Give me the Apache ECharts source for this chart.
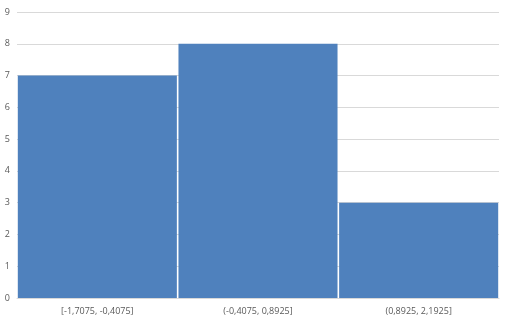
<!DOCTYPE html>
<html><head><meta charset="utf-8">
<script src="https://cdn.jsdelivr.net/npm/echarts@6/dist/echarts.min.js"></script>
<style>html,body{margin:0;padding:0;background:#fff}#c{width:506px;height:321px}</style>
</head><body><div id="c"></div>
<script>
const categories = ['[-1,7075, -0,4075]', '(-0,4075, 0,8925]', '(0,8925, 2,1925]'];
const counts = [7, 8, 3];
const yTicks = [0, 1, 2, 3, 4, 5, 6, 7, 8, 9];

const chart = echarts.init(document.getElementById('c'), null, {renderer: 'canvas'});
chart.setOption({
  animation: false,
  backgroundColor: '#ffffff',
  grid: {left: 17, right: 7, top: 12, bottom: 23},
  xAxis: {
    type: 'category',
    data: categories,
    axisTick: {show: false},
    axisLine: {lineStyle: {color: '#d9d9d9'}},
    axisLabel: {color: '#595959', fontSize: 9, fontFamily: 'Open Sans', margin: 9}
  },
  yAxis: {
    type: 'value',
    min: yTicks[0], max: yTicks[yTicks.length - 1], interval: 1,
    axisLine: {show: false}, axisTick: {show: false},
    splitLine: {lineStyle: {color: '#d9d9d9'}},
    axisLabel: {color: '#595959', fontSize: 9, fontFamily: 'Open Sans', margin: 7}
  },
  series: [{
    type: 'bar',
    data: counts,
    barCategoryGap: '1%',
    itemStyle: {color: '#4f81bd'}
  }]
});
</script></body></html>
